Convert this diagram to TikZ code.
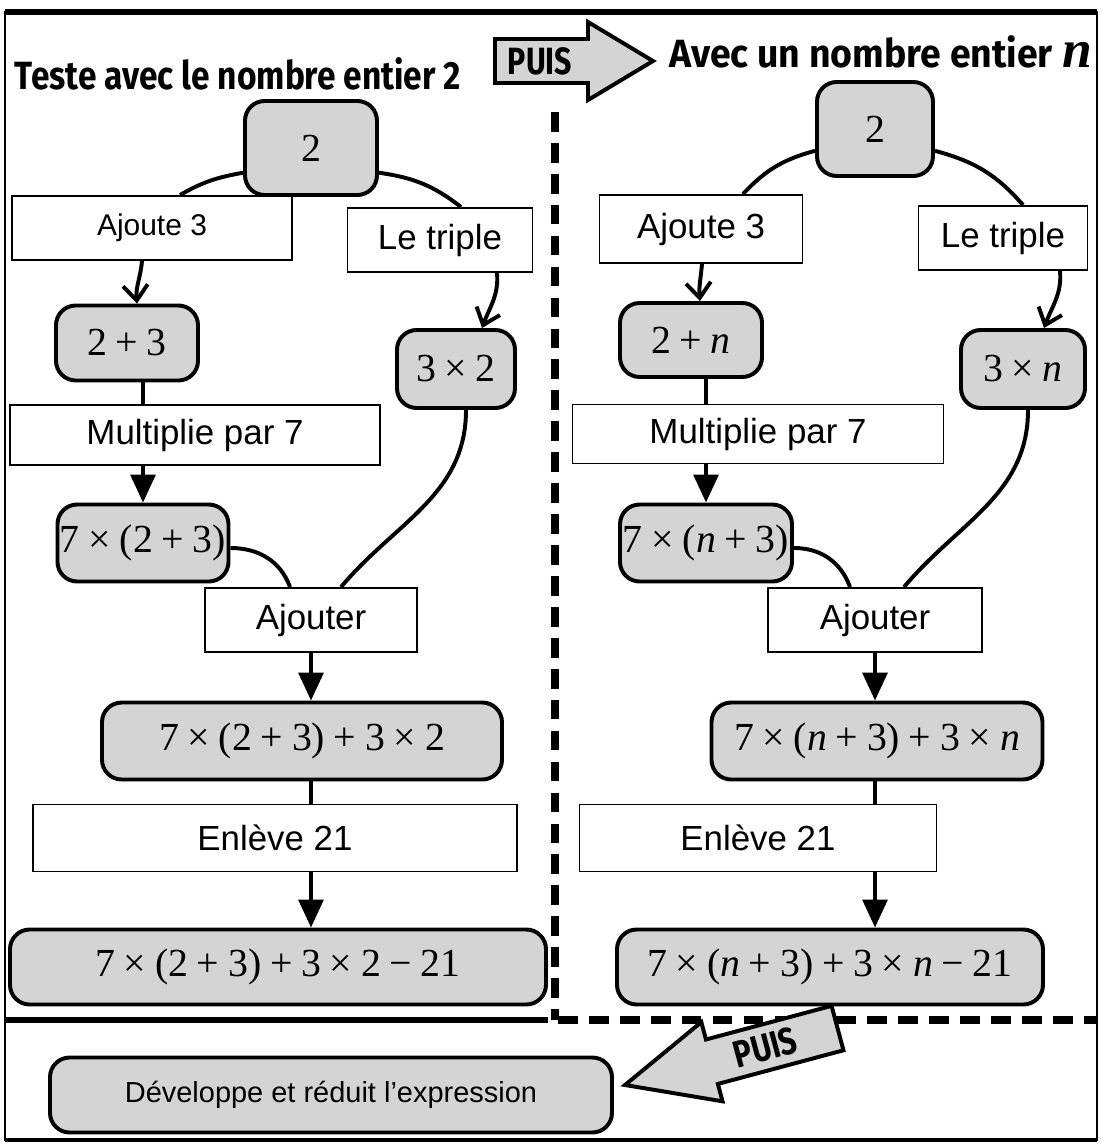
\documentclass[tikz,border=0pt]{standalone}
\usepackage{fontspec}
\usepackage{graphicx}
\setmainfont{Liberation Sans}
\newfontfamily\tms{Liberation Serif}
\newfontfamily\titr{Fira Sans}
\usetikzlibrary{
  arrows.meta,
  calc
}
\definecolor{grisfond}{HTML}{D4D4D4}
\newcommand\pxu{0.025cm}
\newcommand\op[1]{\hspace{0.22em}#1\hspace{0.22em}}
\newcommand\nn{\textit{n}}

\begin{document}
\begin{tikzpicture}[
      x=\pxu, y=-\pxu,
      gris/.style={draw, line width=2.8pt, fill=grisfond, rounded corners=14pt, inner sep=0pt, align=center, font=\tms\fontsize{28.3}{32}\selectfont},
      boite/.style={draw, line width=1.4pt, fill=white, inner sep=0pt, align=center, font=\fontsize{24.8}{28}\selectfont},
      taille/.style 2 args={minimum width=#1*\pxu, minimum height=#2*\pxu},
      lien/.style={line width=2.8pt},
      fleche/.style={lien, -{Triangle[length=0.7cm,width=0.62cm]}},
      crochet/.style={lien, -{Straight Barb[length=0.38cm,width=0.62cm]}},
      titre/.style={font=\titr\bfseries\fontsize{28}{32}\selectfont},
      puis/.style={font=\titr\bfseries\fontsize{27}{30}\selectfont},
      flechepuis/.style={line width=2.8pt, fill=grisfond, line join=miter}
  ]
    \useasboundingbox (0,0) rectangle (1102,1144);

    % cadre
    \draw[line width=1.4pt] (5,12) rectangle (1097,1140);
    \draw[line width=4pt] (5,12) -- (1097,12);
    \draw[line width=3pt] (5,1140) -- (1097,1140);

    % separations
    \draw[line width=5pt, dash pattern=on 14pt off 8pt] (555,112) -- (555,1020);
    \draw[line width=4.5pt] (5,1020) -- (548,1020);
    \draw[line width=5pt, dash pattern=on 14pt off 8pt] (558,1020) -- (1097,1020);

    % titres
    \node[titre] (titreA) at (238,74) {\scalebox{0.85}[1]{Teste avec le nombre entier 2}};
    \node[titre, anchor=east] (titreB) at (1097,52) {\scalebox{0.95}[1]{Avec un nombre entier} {\tms\itshape\fontsize{38}{38}\selectfont n}};

    \draw[flechepuis] (495,39) -- (588,39) -- (588,22) -- (653,61) -- (588,100) -- (588,83) -- (495,83) -- cycle;
    \node[puis] (puisA) at (540,61) {\scalebox{0.8}[1]{PUIS}};

    % Colonne de gauche : avec 2
    \node[gris, taille={132}{94}] (deuxA) at (311,148) {2};
    \node[boite, taille={280}{64}, font=\fontsize{21.3}{24}\selectfont] (ajA) at (152,228) {Ajoute 3};
    \node[boite, taille={185}{64}] (triA) at (440,240) {Le triple};
    \node[gris, taille={142}{75}] (sumA) at (127,343) {2\op{+}3};
    \node[gris, taille={118}{78}] (prodA) at (456,369) {3\op{×}2};
    \node[boite, taille={370}{60}] (mulA) at (195,435) {Multiplie par 7};
    \node[gris, taille={171}{77}] (timesA) at (143,543) {7\op{×}(2\op{+}3)};
    \node[boite, taille={212}{64}] (addA) at (311,620) {Ajouter};
    \node[gris, taille={400}{77}] (totA) at (302,741) {7\op{×}(2\op{+}3)\op{+}3\op{×}2};
    \node[boite, taille={484}{67}] (subA) at (275,838) {Enlève 21};
    \node[gris, taille={536}{75}] (finA) at (278,967) {7\op{×}(2\op{+}3)\op{+}3\op{×}2\op{−}21};

    \draw[lien] (deuxA.200) to[out=190,in=30] ($(ajA.north)+(28,0)$);
    \draw[lien] (deuxA.340) to[out=-8,in=142] ($(triA.north)+(21,0)$);
    \draw[crochet] ($(ajA.south)+(-10,0)$) to[out=-95,in=95] ($(sumA.north)+(10,0)$);
    \draw[crochet] ($(triA.south)+(57,0)$) to[out=-85,in=70] ($(prodA.north)+(26,0)$);
    \draw[lien] (sumA.south -| timesA) -- (mulA.north -| timesA);
    \draw[fleche] (mulA.south -| timesA) -- (timesA.north);
    \draw[lien] ($(timesA.east)+(0,5)$) to[out=0,in=110] ($(addA.north)+(-21,0)$);
    \draw[lien] ($(prodA.south)+(10,0)$) to[out=-90,in=50] ($(addA.north)+(30,0)$);
    \draw[fleche] (addA.south) -- (totA.north -| addA);
    \draw[lien] (totA.south -| addA) -- (subA.north -| addA);
    \draw[fleche] (subA.south -| addA) -- (finA.north -| addA);

    % Colonne de droite : avec n
    \node[gris, taille={116}{94}] (deuxB) at (875,129) {2};
    \node[boite, taille={203}{68}] (ajB) at (701,229) {Ajoute 3};
    \node[boite, taille={169}{64}] (triB) at (1003,238) {Le triple};
    \node[gris, taille={142}{74}] (sumB) at (691,340) {2\op{+}\nn};
    \node[gris, taille={124}{78}] (prodB) at (1023,369) {3\op{×}\nn};
    \node[boite, taille={371}{59}] (mulB) at (758,434) {Multiplie par 7};
    \node[gris, taille={172}{77}] (timesB) at (706,543) {7\op{×}(\nn\op{+}3)};
    \node[boite, taille={214}{64}] (addB) at (875,620) {Ajouter};
    \node[gris, taille={331}{77}] (totB) at (877,741) {7\op{×}(\nn\op{+}3)\op{+}3\op{×}\nn};
    \node[boite, taille={357}{67}] (subB) at (758,838) {Enlève 21};
    \node[gris, taille={426}{75}] (finB) at (830,967) {7\op{×}(\nn\op{+}3)\op{+}3\op{×}\nn\op{−}21};

    \draw[lien] (deuxB.200) to[out=195,in=47] ($(ajB.north)+(42,0)$);
    \draw[lien] (deuxB.340) to[out=-15,in=131] ($(triB.north)+(20,0)$);
    \draw[crochet] ($(ajB.south)+(1,0)$) to[out=-95,in=95] ($(sumB.north)+(9,0)$);
    \draw[crochet] ($(triB.south)+(57,0)$) to[out=-85,in=70] ($(prodB.north)+(21,0)$);
    \draw[lien] (sumB.south -| timesB) -- (mulB.north -| timesB);
    \draw[fleche] (mulB.south -| timesB) -- (timesB.north);
    \draw[lien] ($(timesB.east)+(0,5)$) to[out=0,in=110] ($(addB.north)+(-25,0)$);
    \draw[lien] ($(prodB.south)+(5,0)$) to[out=-90,in=50] ($(addB.north)+(29,0)$);
    \draw[fleche] (addB.south) -- (totB.north -| addB);
    \draw[lien] (totB.south -| addB) -- (subB.north -| addB);
    \draw[fleche] (subB.south -| addB) -- (finB.north -| addB);

    % En bas
    \node[gris, taille={562}{75}, font=\fontsize{20.6}{24}\selectfont] (devel) at (331,1095) {Développe et réduit l’expression};
    \begin{scope}[shift={(625,1085)}, rotate=15]
      \draw[flechepuis] (0,0) -- (90,-41) -- (90,-23) -- (220,-23) -- (220,23) -- (90,23) -- (90,41) -- cycle;
      \node[puis, rotate=15] (puisB) at (145,0) {\scalebox{0.8}[1]{PUIS}};
    \end{scope}
\end{tikzpicture}
\end{document}
